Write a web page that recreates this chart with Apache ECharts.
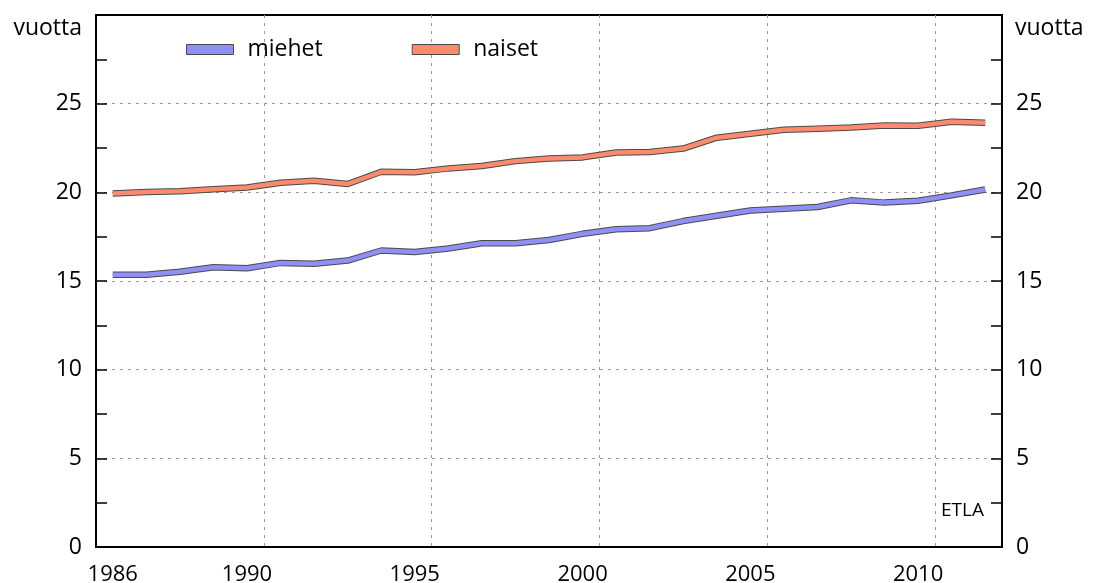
<!DOCTYPE html>
<html>
<head>
<meta charset="utf-8">
<script src="https://cdn.jsdelivr.net/npm/echarts@6/dist/echarts.min.js"></script>
<style>
  html, body { margin: 0; padding: 0; background: #fff; }
  #chart { width: 1097px; height: 583px; }
</style>
</head>
<body>
<div id="chart"></div>
<script>
// vuodet ja arvot (luettu kuvasta)
const years = ['1986', '1987', '1988', '1989', '1990', '1991', '1992', '1993', '1994', '1995',
  '1996', '1997', '1998', '1999', '2000', '2001', '2002', '2003', '2004', '2005',
  '2006', '2007', '2008', '2009', '2010', '2011', '2012']
const miehet = [15.35, 15.35, 15.52, 15.77, 15.72, 16.02, 15.97, 16.15, 16.72, 16.63,
  16.83, 17.13, 17.13, 17.31, 17.66, 17.92, 17.98, 18.38, 18.68, 18.98,
  19.08, 19.17, 19.55, 19.42, 19.53, 19.83, 20.16]
const naiset = [19.94, 20.02, 20.06, 20.18, 20.27, 20.54, 20.65, 20.47, 21.16, 21.13,
  21.35, 21.48, 21.76, 21.91, 21.97, 22.25, 22.27, 22.47, 23.08, 23.3,
  23.53, 23.59, 23.65, 23.77, 23.76, 23.98, 23.93]
const xLabels = ['1986', '1990', '1995', '2000', '2005', '2010']
const yLabels = [0, 5, 10, 15, 20, 25]

const font = '"Open Sans", "Noto Sans", sans-serif'
const black = { color: '#000', width: 2 }
const dotted = { color: '#999', width: 1, type: [3, 5] }
const outline = '#4a4a4a'

const chart = echarts.init(document.getElementById('chart'), null, { renderer: 'canvas' })

// apufunktio: viivaan tumma reuna alle ja väri päälle
function band (name, values, color, z) {
  return [{
    name: name + '-reuna',
    type: 'line',
    data: values,
    symbol: 'none',
    silent: true,
    z: z,
    lineStyle: { color: outline, width: 6.5 }
  }, {
    name: name,
    type: 'line',
    data: values,
    symbol: 'none',
    z: z + 1,
    itemStyle: { color: color },
    lineStyle: { color: color, width: 4.5 }
  }]
}

const option = {
  animation: false,
  textStyle: { fontFamily: font },
  grid: {
    left: 96,
    right: 95,
    top: 15,
    bottom: 36,
    outerBoundsMode: 'none',
    show: true,
    borderColor: '#000',
    borderWidth: 2
  },
  legend: {
    left: 186,
    top: 38,
    padding: 0,
    itemWidth: 47,
    itemHeight: 10,
    itemGap: 89,
    textStyle: { fontSize: 23, color: '#000', fontFamily: font, padding: [0, 0, 0, 9] },
    data: [
      { name: 'miehet', icon: 'rect', itemStyle: { borderColor: outline, borderWidth: 1 } },
      { name: 'naiset', icon: 'rect', itemStyle: { borderColor: outline, borderWidth: 1 } }
    ]
  },
  xAxis: [{
    type: 'category',
    position: 'bottom',
    data: years,
    boundaryGap: true,
    axisLine: { lineStyle: black },
    axisTick: { inside: true, length: 5, interval: 0, lineStyle: { color: '#000', width: 1.5 } },
    axisLabel: {
      interval: (i, v) => xLabels.includes(v),
      margin: 17,
      fontSize: 22,
      color: '#000',
      fontFamily: font
    },
    splitLine: { show: true, interval: (i) => i > 0 && i % 5 === 0, lineStyle: dotted }
  }, {
    // pidemmät tikit viiden vuoden välein
    type: 'category',
    position: 'bottom',
    data: years,
    boundaryGap: true,
    axisLine: { show: false },
    axisLabel: { show: false },
    splitLine: { show: false },
    axisTick: { inside: true, length: 13, interval: (i) => i > 0 && i % 5 === 0, lineStyle: { color: '#000', width: 1.5 } }
  }],
  yAxis: [0, 1].map(k => ({
    type: 'value',
    position: k === 0 ? 'left' : 'right',
    min: 0,
    max: 30,
    interval: 5,
    axisLine: { show: true, lineStyle: black },
    axisTick: { show: true, inside: true, length: 11, lineStyle: { color: '#000', width: 1.5 } },
    minorTick: { show: true, splitNumber: 2, length: 11, lineStyle: { color: '#000', width: 1.5 } },
    axisLabel: {
      margin: 14,
      fontSize: 23,
      color: '#000',
      fontFamily: font,
      formatter: v => yLabels.includes(v) ? String(v) : ''
    },
    splitLine: { show: k === 0, showMinLine: false, showMaxLine: false, lineStyle: dotted }
  })),
  graphic: [
    { type: 'text', right: 1015, top: 17, style: { text: 'vuotta', fontSize: 23, fontFamily: font, fill: '#000' } },
    { type: 'text', left: 1015, top: 17, style: { text: 'vuotta', fontSize: 23, fontFamily: font, fill: '#000' } },
    { type: 'text', left: 941, top: 501, style: { text: 'ETLA', fontSize: 19, fontFamily: font, fill: '#000' } }
  ],
  series: [
    ...band('miehet', miehet, '#8f8ff8', 3),
    ...band('naiset', naiset, '#fc8b6e', 5)
  ]
}

chart.setOption(option)
window.addEventListener('resize', function () {
  chart.resize()
})
</script>
</body>
</html>
